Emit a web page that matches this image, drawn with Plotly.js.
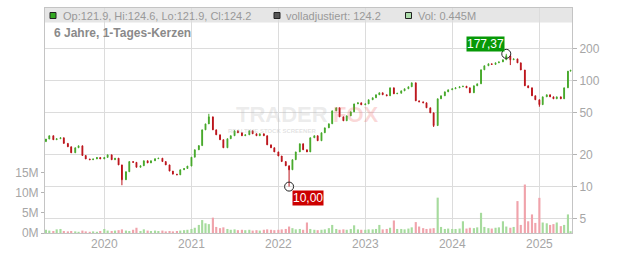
<!DOCTYPE html>
<html>
<head>
<meta charset="utf-8">
<script src="https://cdn.plot.ly/plotly-3.0.1.min.js"></script>
<style>html,body{margin:0;padding:0;background:#fff;}#chart{width:632px;height:253px;}</style>
</head>
<body>
<div id="chart"></div>
<script>
// ---- data (semi-monthly samples) ----
const months = [];
for (let y = 2019; y <= 2025; y++) {
  for (let m = 1; m <= 12; m++) {
    if (y === 2019 && m < 5) continue;
    if (y === 2025 && m > 5) continue;
    months.push(y + '-' + String(m).padStart(2, '0'));
  }
}
const dates = [];
months.forEach(function (mo) {
  dates.push(mo + '-01');
  if (mo !== '2025-05') dates.push(mo + '-15');
});
dates.push('2025-05-12');

const firstOpen = 26.5;
const closes = [
  // 2019 May-Dec
  28.0, 30.1, 27.6, 28.2, 28.8, 25.5, 23.7, 20.8, 23.2, 24.2, 19.6, 18.2, 17.9, 18.2, 18.8, 18.2,
  // 2020
  18.8, 19.9, 17.9, 18.5, 16.0, 11.6, 13.8, 17.2, 16.9, 15.2, 15.7, 17.5, 16.7, 17.5, 18.3, 18.5, 17.2, 16.0, 14.0, 13.1, 12.9, 14.4, 14.8, 15.6,
  // 2021
  18.9, 22.2, 24.3, 34.2, 38.9, 45.3, 34.2, 30.7, 27.6, 23.2, 28.2, 30.1, 33.5, 32.1, 30.1, 30.7, 33.5, 31.4, 30.1, 31.4, 30.1, 24.7, 23.2, 21.2,
  // 2022
  19.4, 17.2, 15.7, 14.4, 17.9, 21.2, 25.3, 22.2, 21.2, 28.8, 30.1, 27.0, 32.1, 35.7, 39.0, 51.6, 55.1, 45.3, 41.6, 46.3, 50.5, 60.0, 61.4, 58.8,
  // 2023
  60.0, 65.6, 68.5, 73.1, 76.3, 73.1, 71.5, 85.0, 74.6, 75.5, 79.6, 83.2, 86.9, 94.7, 64.1, 62.7, 61.4, 55.1, 49.4, 37.5, 67.0, 71.5, 77.9, 81.4,
  // 2024
  83.2, 85.0, 86.9, 88.0, 85.0, 76.3, 88.8, 92.7, 125.5, 137.0, 143.0, 141.0, 146.0, 149.0, 156.0, 170.0, 156.0, 159.0, 146.0, 125.0, 88.8, 85.0, 71.5, 65.6,
  // 2025
  59.0, 69.9, 73.1, 69.9, 67.0, 69.9, 67.0, 85.0, 121.9, 124.2
];
const highExtra = {'2021-03-15': 48.4, '2024-08-15': 177.37, '2025-05-12': 124.6};
const lowExtra = {'2020-03-15': 10.3, '2022-02-15': 10.00, '2023-10-15': 36.4, '2024-09-01': 139.0, '2025-01-01': 56.4};

const volumesM = [
  // 2019
  0.8, 0.6, 0.5, 0.9, 1.0, 0.5, 0.4, 0.5, 0.4, 0.3, 0.6, 0.4, 0.3, 0.4, 0.3, 0.5,
  // 2020
  1.0, 0.6, 0.5, 0.6, 0.7, 0.9, 0.6, 0.5, 0.8, 1.3, 0.5, 0.9, 0.6, 0.5, 0.6, 0.5, 0.6, 0.4, 0.5, 0.4, 0.5, 0.6, 0.7, 0.8,
  // 2021
  1.0, 1.3, 2.0, 3.2, 2.4, 2.2, 3.8, 1.5, 1.2, 1.4, 1.0, 0.8, 0.9, 0.7, 0.8, 0.7, 0.8, 0.6, 0.7, 0.6, 0.8, 0.9, 0.8, 0.7,
  // 2022
  0.8, 0.9, 1.0, 1.6, 1.2, 0.9, 1.0, 0.8, 2.6, 1.0, 0.8, 0.7, 0.8, 0.9, 1.2, 2.0, 1.0, 0.8, 0.9, 0.8, 1.0, 1.9, 0.9, 0.8,
  // 2023
  0.8, 0.9, 0.9, 1.0, 2.0, 0.9, 1.0, 1.3, 3.1, 1.0, 1.0, 0.9, 1.1, 1.4, 2.7, 1.6, 1.2, 1.0, 1.1, 1.2, 8.75, 1.5, 1.0, 1.1,
  // 2024
  1.0, 1.0, 1.1, 2.9, 1.1, 1.3, 1.2, 1.4, 5.0, 1.5, 1.2, 1.1, 1.3, 1.4, 2.9, 1.6, 1.3, 1.5, 7.9, 2.0, 12.0, 2.9, 4.6, 2.5,
  // 2025
  8.7, 2.6, 2.4, 2.0, 2.2, 2.6, 1.7, 2.0, 4.6, 0.445
];

const priceTicks = [5, 10, 20, 50, 100, 200];
const volTicksM = [0, 5, 10, 15];
const yearTicks = ['2020-01-01', '2021-01-01', '2022-01-01', '2023-01-01', '2024-01-01', '2025-01-01'];
const hiDate = '2024-08-15', hiValue = 177.37;
const loDate = '2022-02-15', loValue = 10.00;

// ---- build OHLC ----
const opens = closes.map(function (c, i) { return i === 0 ? firstOpen : closes[i - 1]; });
const highs = closes.map(function (c, i) {
  const h = Math.max(c, opens[i]);
  return highExtra[dates[i]] !== undefined ? Math.max(h, highExtra[dates[i]]) : h;
});
const lows = closes.map(function (c, i) {
  const l = Math.min(c, opens[i]);
  return lowExtra[dates[i]] !== undefined ? Math.min(l, lowExtra[dates[i]]) : l;
});
const volColors = closes.map(function (c, i) { return c >= opens[i] ? '#a6db9d' : '#f0a3ab'; });

const GREEN = '#45a829', RED = '#bb1219';
const FONT = 'Arial, "Liberation Sans", sans-serif';
const last = closes.length - 1;
const fmt = function (v) { return v.toFixed(1); };

const traces = [
  {
    type: 'bar', x: dates, y: volumesM.map(function (v) { return v * 1e6; }),
    yaxis: 'y2', marker: {color: volColors, line: {width: 0}},
    width: 9 * 86400000, hoverinfo: 'skip'
  },
  {
    type: 'candlestick', x: dates, open: opens, high: highs, low: lows, close: closes,
    yaxis: 'y', whiskerwidth: 0,
    increasing: {line: {color: GREEN, width: 1}, fillcolor: GREEN},
    decreasing: {line: {color: RED, width: 1}, fillcolor: RED},
    hoverinfo: 'skip'
  },
  {
    type: 'scatter', mode: 'markers', x: [hiDate, loDate], y: [hiValue, loValue], yaxis: 'y',
    marker: {symbol: 'circle-open', size: 9, color: '#222', line: {width: 1}}, hoverinfo: 'skip'
  }
];

const pxToPaperY = function (py) { return (233 - py) / 225; };
const pxToPaperX = function (px) { return (px - 45) / 527; };

const layout = {
  width: 632, height: 253,
  margin: {l: 45, r: 60, t: 8, b: 20, pad: 0},
  paper_bgcolor: '#ffffff', plot_bgcolor: '#ffffff',
  showlegend: false,
  boxgap: 0.55,
  font: {family: FONT, color: '#a6a6a6', size: 12},
  xaxis: {
    type: 'date', range: ['2019-04-27', '2025-05-18'],
    tickvals: yearTicks, tickformat: '%Y',
    showgrid: true, gridcolor: '#dcdcdc', gridwidth: 1,
    showline: true, linecolor: '#c4c4c4', mirror: true,
    ticks: '', tickfont: {size: 12, color: '#a6a6a6'},
    rangeslider: {visible: false}, zeroline: false, fixedrange: true
  },
  yaxis: {
    type: 'log', side: 'right',
    range: [0.5635, 2.6801],
    tickvals: priceTicks, ticktext: priceTicks.map(String),
    showgrid: true, gridcolor: '#dcdcdc', gridwidth: 1,
    ticks: 'outside', ticklen: 4, tickcolor: '#b4b4b4',
    showline: true, linecolor: '#c4c4c4',
    tickfont: {size: 12, color: '#a6a6a6'}, zeroline: false, fixedrange: true
  },
  yaxis2: {
    overlaying: 'y', side: 'left',
    range: [0, 55.7e6],
    tickvals: volTicksM.map(function (v) { return v * 1e6; }),
    ticktext: volTicksM.map(function (v) { return v + 'M'; }),
    showgrid: false, ticks: 'outside', ticklen: 3, tickcolor: '#b4b4b4',
    showline: true, linecolor: '#c4c4c4',
    tickfont: {size: 12, color: '#a6a6a6'}, zeroline: false, fixedrange: true
  },
  shapes: [
    {type: 'rect', xref: 'paper', yref: 'paper', x0: 0, x1: 1, y0: pxToPaperY(22.5), y1: 1,
     fillcolor: '#e6e6e6', line: {width: 0}, layer: 'below'},
    {type: 'rect', xref: 'paper', yref: 'paper', x0: pxToPaperX(50), x1: pxToPaperX(56), y0: pxToPaperY(18.5), y1: pxToPaperY(12.5),
     fillcolor: '#33a822', line: {color: '#222', width: 1}},
    {type: 'rect', xref: 'paper', yref: 'paper', x0: pxToPaperX(274), x1: pxToPaperX(280), y0: pxToPaperY(18.5), y1: pxToPaperY(12.5),
     fillcolor: '#555555', line: {color: '#222', width: 1}},
    {type: 'rect', xref: 'paper', yref: 'paper', x0: pxToPaperX(405.5), x1: pxToPaperX(411.5), y0: pxToPaperY(18.5), y1: pxToPaperY(12.5),
     fillcolor: '#acdcaa', line: {color: '#222', width: 1}}
  ],
  annotations: [
    {xref: 'paper', yref: 'paper', x: pxToPaperX(61), y: pxToPaperY(16), xanchor: 'left', yanchor: 'middle', showarrow: false,
     text: 'Op:' + fmt(opens[last]) + ', Hi:' + fmt(highs[last]) + ', Lo:' + fmt(lows[last]) + ', Cl:' + fmt(closes[last]),
     font: {size: 11, color: '#999999'}},
    {xref: 'paper', yref: 'paper', x: pxToPaperX(284), y: pxToPaperY(16), xanchor: 'left', yanchor: 'middle', showarrow: false,
     text: 'volladjustiert: ' + fmt(closes[last]), font: {size: 11, color: '#999999'}},
    {xref: 'paper', yref: 'paper', x: pxToPaperX(416), y: pxToPaperY(16), xanchor: 'left', yanchor: 'middle', showarrow: false,
     text: 'Vol: ' + volumesM[last].toFixed(3) + 'M', font: {size: 11, color: '#999999'}},
    {xref: 'paper', yref: 'paper', x: pxToPaperX(52), y: pxToPaperY(33.5), xanchor: 'left', yanchor: 'middle', showarrow: false,
     text: '<b>6 Jahre, 1-Tages-Kerzen</b>', font: {size: 12, color: '#8a8a8a'}},
    // watermark
    {xref: 'paper', yref: 'paper', x: pxToPaperX(282), y: pxToPaperY(114.5), xanchor: 'center', yanchor: 'middle', showarrow: false,
     text: '<b>TRADER</b>', font: {size: 22, color: 'rgba(190,190,190,0.30)'}, borderpad: 0},
    {xref: 'paper', yref: 'paper', x: pxToPaperX(356), y: pxToPaperY(114.5), xanchor: 'center', yanchor: 'middle', showarrow: false,
     text: '<b>FOX</b>', font: {size: 22, color: 'rgba(235,80,80,0.22)'}, borderpad: 0},
    {xref: 'paper', yref: 'paper', x: pxToPaperX(272), y: pxToPaperY(130.5), xanchor: 'center', yanchor: 'middle', showarrow: false,
     text: '<b>REALTIME STOCK SCREENER</b>', font: {size: 6, color: 'rgba(170,170,170,0.35)'}, borderpad: 0},
    // extreme labels
    {xref: 'x', yref: 'y', x: hiDate, y: Math.log10(hiValue), showarrow: false, xshift: -21, yshift: 10,
     text: hiValue.toFixed(2).replace('.', ','), bgcolor: '#079907', borderpad: 0,
     font: {size: 12, color: '#ffffff'}},
    {xref: 'x', yref: 'y', x: loDate, y: Math.log10(loValue), showarrow: false, xshift: 19, yshift: -11,
     text: loValue.toFixed(2).replace('.', ','), bgcolor: '#cc0000', borderpad: 0,
     font: {size: 12, color: '#ffffff'}}
  ]
};

Plotly.newPlot('chart', traces, layout, {staticPlot: true, displayModeBar: false});
</script>
</body>
</html>
